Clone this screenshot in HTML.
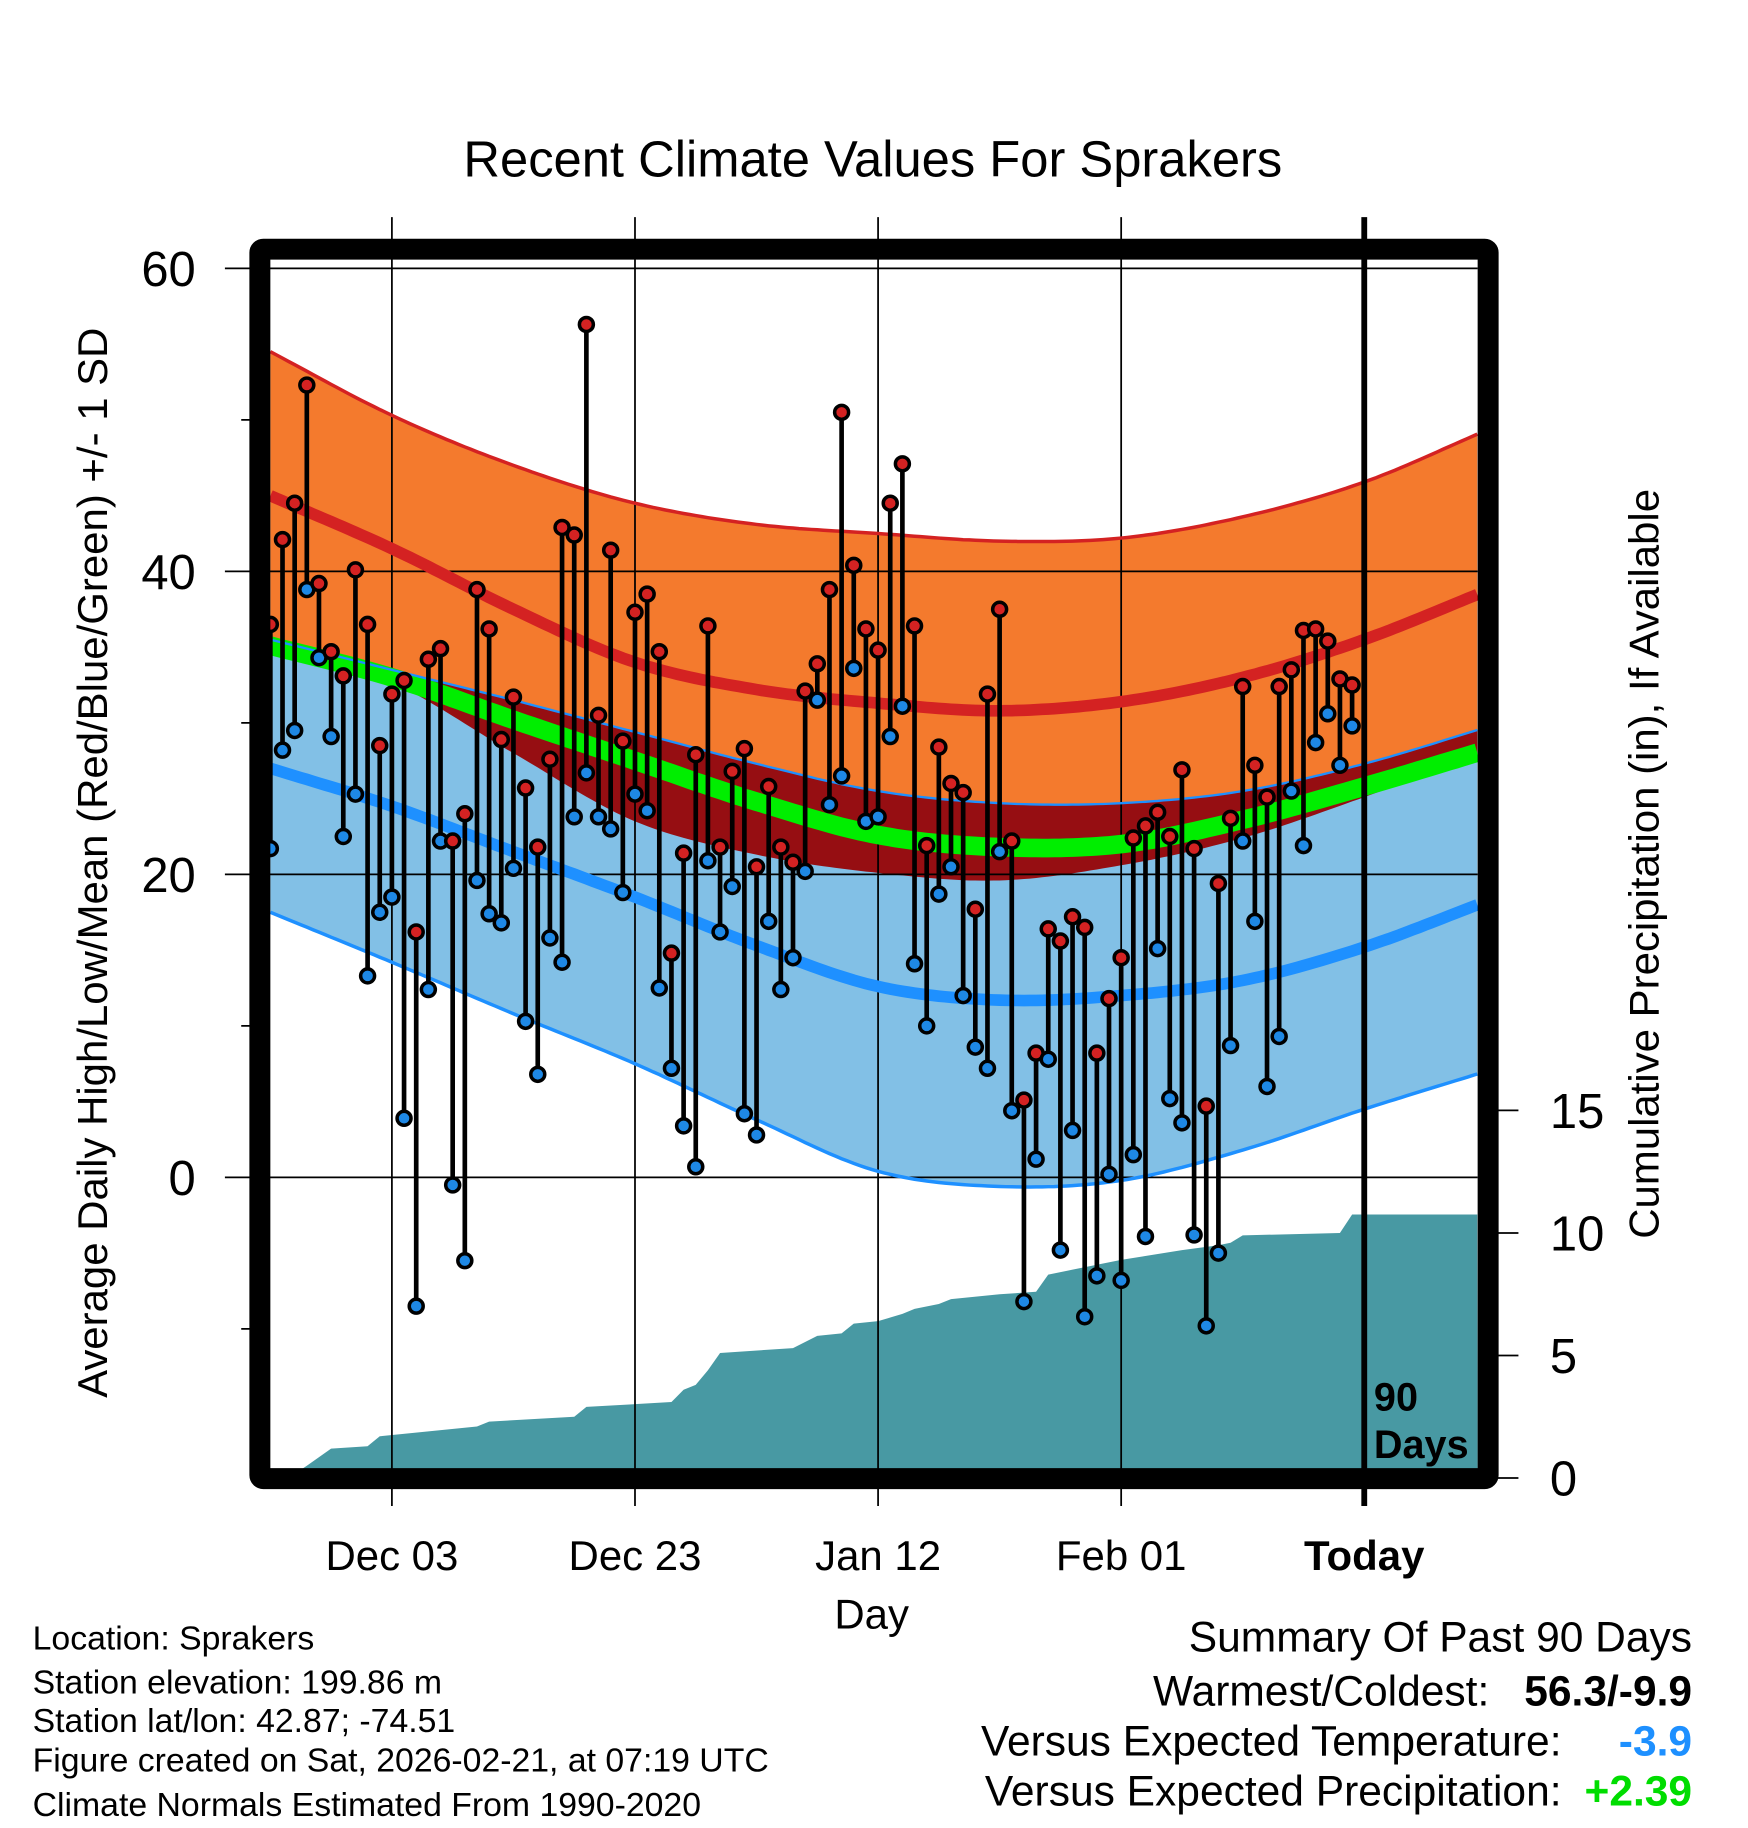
<!DOCTYPE html>
<html><head><meta charset="utf-8"><style>
html,body{margin:0;padding:0;background:#fff;}
svg{display:block;font-family:"Liberation Sans",Arial,sans-serif;}
</style></head><body>
<svg id="chart" xmlns="http://www.w3.org/2000/svg" width="1748" height="1828" viewBox="0 0 1500 1568">
<g id="bands"></g>
<g id="precip"></g>
<g id="grid"></g>
<g id="lines"></g>
<g id="marks"></g>
<g id="frame"></g>
<g id="labels"></g>
<text x="749" y="151" font-size="43.5" text-anchor="middle">Recent Climate Values For Sprakers</text>
<text transform="translate(92,740) rotate(-90)" font-size="36" text-anchor="middle">Average Daily High/Low/Mean (Red/Blue/Green) +/- 1 SD</text>
<text transform="translate(1423,741) rotate(-90)" font-size="36" text-anchor="middle">Cumulative Precipitation (in), If Available</text>
<text x="748" y="1397" font-size="36" text-anchor="middle">Day</text>
<text x="1179" y="1210" font-size="34" font-weight="bold">90</text>
<text x="1179" y="1251" font-size="34" font-weight="bold">Days</text>
<g font-size="29">
<text x="28" y="1415">Location: Sprakers</text>
<text x="28" y="1453">Station elevation: 199.86 m</text>
<text x="28" y="1486">Station lat/lon: 42.87; -74.51</text>
<text x="28" y="1520">Figure created on Sat, 2026-02-21, at 07:19 UTC</text>
<text x="28" y="1558">Climate Normals Estimated From 1990-2020</text>
</g>
<g font-size="36.5" text-anchor="end">
<text x="1452" y="1417">Summary Of Past 90 Days</text>
<text x="1278" y="1463">Warmest/Coldest:</text>
<text x="1452" y="1463" font-weight="bold">56.3/-9.9</text>
<text x="1340" y="1506">Versus Expected Temperature:</text>
<text x="1452" y="1506" font-weight="bold" fill="#1e90ff">-3.9</text>
<text x="1340" y="1549">Versus Expected Precipitation:</text>
<text x="1452" y="1549" font-weight="bold" fill="#00dd00">+2.39</text>
</g>
</svg>
<script>
// ---- data ----
const highs=[36.5,42.1,44.5,52.3,39.2,34.7,33.1,40.1,36.5,28.5,31.9,32.8,16.2,34.2,34.9,22.2,24.0,38.8,36.2,28.9,31.7,25.7,21.8,27.6,42.9,42.4,56.3,30.5,41.4,28.8,37.3,38.5,34.7,14.8,21.4,27.9,36.4,21.8,26.8,28.3,20.5,25.8,21.8,20.8,32.1,33.9,38.8,50.5,40.4,36.2,34.8,44.5,47.1,36.4,21.9,28.4,26.0,25.4,17.7,31.9,37.5,22.2,5.1,8.2,16.4,15.6,17.2,16.5,8.2,11.8,14.5,22.4,23.2,24.1,22.5,26.9,21.7,4.7,19.4,23.7,32.4,27.2,25.1,32.4,33.5,36.1,36.2,35.4,32.9,32.5];
const lows=[21.7,28.2,29.5,38.8,34.3,29.1,22.5,25.3,13.3,17.5,18.5,3.9,-8.5,12.4,22.2,-0.5,-5.5,19.6,17.4,16.8,20.4,10.3,6.8,15.8,14.2,23.8,26.7,23.8,23.0,18.8,25.3,24.2,12.5,7.2,3.4,0.7,20.9,16.2,19.2,4.2,2.8,16.9,12.4,14.5,20.2,31.5,24.6,26.5,33.6,23.5,23.8,29.1,31.1,14.1,10.0,18.7,20.5,12.0,8.6,7.2,21.5,4.4,-8.2,1.2,7.8,-4.8,3.1,-9.2,-6.5,0.2,-6.8,1.5,-3.9,15.1,5.2,3.6,-3.8,-9.8,-5.0,8.7,22.2,16.9,6.0,9.3,25.5,21.9,28.7,30.6,27.2,29.8];
const normDays=[0,10,20,30,40,50,60,70,80,90,100];
const hiUpper=[54.5,50.3,47.0,44.5,43.1,42.5,42.0,42.2,43.6,45.9,49.3];
const hiMean=[45.0,41.5,37.5,34.0,32.2,31.3,30.8,31.4,33.0,35.5,38.7];
const loUpper=[35.5,33.5,31.5,29.4,27.3,25.5,24.7,24.7,25.5,27.3,29.7];
const avgMean=[35.1,33.0,30.2,27.5,24.8,22.6,21.8,22.0,23.6,25.8,28.2];
const loMean=[27.0,24.5,21.5,18.5,15.3,12.6,11.7,12.0,13.0,15.2,18.2];
const loLower=[17.5,14.2,10.8,7.5,3.8,0.4,-0.6,-0.2,1.8,4.5,7.0];
const precipDays=[1.5,3,5,8,9,13,17,18,25,26,33,34,35,36,37,43,45,47,48,50,52,53,55,56,60,63,64,66,70,75,78,79,80,88,89,99.3];
const precipVals=[0,0.5,1.2,1.3,1.7,1.9,2.1,2.3,2.5,2.9,3.1,3.6,3.8,4.4,5.1,5.3,5.8,5.9,6.3,6.4,6.7,6.9,7.1,7.3,7.5,7.6,8.3,8.5,8.9,9.3,9.5,9.6,9.9,10.0,10.75,10.75];
const yTicks=[60,40,20,0];
const yMinor=[50,30,10,-10];
const precipTicks=[0,5,10,15];
const xTickDays=[10,30,50,70,90];
const xTickLabels=["Dec 03","Dec 23","Jan 12","Feb 01","Today"];
// ---- scales ----
const X0=232,DX=10.43,L=232,R=1268,T=222,B=1260;
const x=d=>X0+d*DX;
const y=v=>1010-13*v;
const yp=p=>1268-21.03*p;
const NS="http://www.w3.org/2000/svg";
function mk(tag,parent,attrs){const e=document.createElementNS(NS,tag);for(const k in attrs)e.setAttribute(k,attrs[k]);parent.appendChild(e);return e;}
function interp(arr,d){let i=0;while(i<normDays.length-2&&d>normDays[i+1])i++;
 const t=(d-normDays[i])/(normDays[i+1]-normDays[i]);
 const p0=i>0?arr[i-1]:2*arr[0]-arr[1],p1=arr[i],p2=arr[i+1],p3=i+2<arr.length?arr[i+2]:2*arr[i+1]-arr[i];
 return 0.5*((2*p1)+(-p0+p2)*t+(2*p0-5*p1+4*p2-p3)*t*t+(-p0+3*p1-3*p2+p3)*t*t*t);}
const samples=[];for(let d=0;d<99.3;d+=0.5)samples.push(d);samples.push(99.3);
const curve=arr=>samples.map(d=>[x(d),y(interp(arr,d))]);
const hiLowerArr=hiUpper.map((u,i)=>2*hiMean[i]-u);
const pstr=pts=>pts.map(p=>p[0].toFixed(1)+','+p[1].toFixed(1)).join(' ');
function band(a,b,fill,g,name){const p=curve(a).concat(curve(b).reverse());const e=mk('polygon',g,{points:pstr(p),fill:fill});

}
const bands=document.getElementById('bands');
band(hiUpper,hiLowerArr,'#f47a2d',bands,'high-sd-band');
band(loUpper,loLower,'#82c0e6',bands,'low-sd-band');
{const top=samples.map(d=>[x(d),y(interp(loUpper,d))]);
 const bot=samples.map(d=>{const a=interp(loUpper,d),b=interp(hiLowerArr,d);return [x(d),y(Math.min(a,b))];});
 const e=mk('polygon',bands,{points:pstr(top.concat(bot.reverse())),fill:'#960e12'});
 
 }
{const g=document.getElementById('precip');const pts=[[x(precipDays[0]),yp(0)]];
 precipDays.forEach((d,i)=>pts.push([Math.min(x(d),R),yp(precipVals[i])]));
 pts.push([R,yp(0)]);
 const e=mk('polygon',g,{points:pstr(pts),fill:'#4899a3'});
 
 }
const grid=document.getElementById('grid');
yTicks.forEach(v=>{const e=mk('line',grid,{x1:193,x2:R,y1:y(v),y2:y(v),stroke:'#000','stroke-width':1.5});

});
yMinor.forEach(v=>{const e=mk('line',grid,{x1:207,x2:222,y1:y(v),y2:y(v),stroke:'#000','stroke-width':1.5});

});
xTickDays.forEach((d,i)=>{if(i===4)return;const e=mk('line',grid,{x1:x(d),x2:x(d),y1:186,y2:1292,stroke:'#000','stroke-width':1.5});

});
precipTicks.forEach(p=>{const e=mk('line',grid,{x1:1280,x2:1303,y1:yp(p),y2:yp(p),stroke:'#000','stroke-width':1.5});

});
const lines=document.getElementById('lines');
function line(arr,color,w,name){const e=mk('polyline',lines,{points:pstr(curve(arr)),fill:'none',stroke:color,'stroke-width':w});

}
line(avgMean,'#00ee00',16,'mean-temp-line');
line(hiMean,'#d42222',10,'mean-high-line');
line(loMean,'#1e90ff',10,'mean-low-line');
line(hiUpper,'#d42222',3,'high-upper-sd');
line(loUpper,'#1e90ff',2,'low-upper-sd');
line(loLower,'#1e90ff',3,'low-lower-sd');
{const e=mk('line',lines,{x1:x(90),x2:x(90),y1:186,y2:1292,stroke:'#000','stroke-width':5});

}
const marks=document.getElementById('marks');
highs.forEach((h,i)=>{const lo=lows[i];
 const s=mk('line',marks,{x1:x(i),x2:x(i),y1:y(h),y2:y(lo),stroke:'#000','stroke-width':4});
 
 
 const c1=mk('circle',marks,{cx:x(i),cy:y(lo),r:6,fill:'#1e88e5',stroke:'#000','stroke-width':3});
 
 
 const c2=mk('circle',marks,{cx:x(i),cy:y(h),r:6,fill:'#d42222',stroke:'#000','stroke-width':3});
 
 });
{const e=mk('rect',document.getElementById('frame'),{x:223,y:213.5,width:1054,height:1055,fill:'none',stroke:'#000','stroke-width':18,rx:3});

}
const lab=document.getElementById('labels');
yTicks.forEach(v=>{const e=mk('text',lab,{x:168,y:y(v)+15,'font-size':42,'text-anchor':'end'});e.textContent=v;

});
precipTicks.forEach(p=>{const e=mk('text',lab,{x:1330,y:yp(p)+15,'font-size':42});e.textContent=p;

});
xTickDays.forEach((d,i)=>{const e=mk('text',lab,{x:x(d),y:1347,'font-size':36,'text-anchor':'middle','font-weight':i===4?'bold':'normal'});e.textContent=xTickLabels[i];

});
</script>
</body></html>
